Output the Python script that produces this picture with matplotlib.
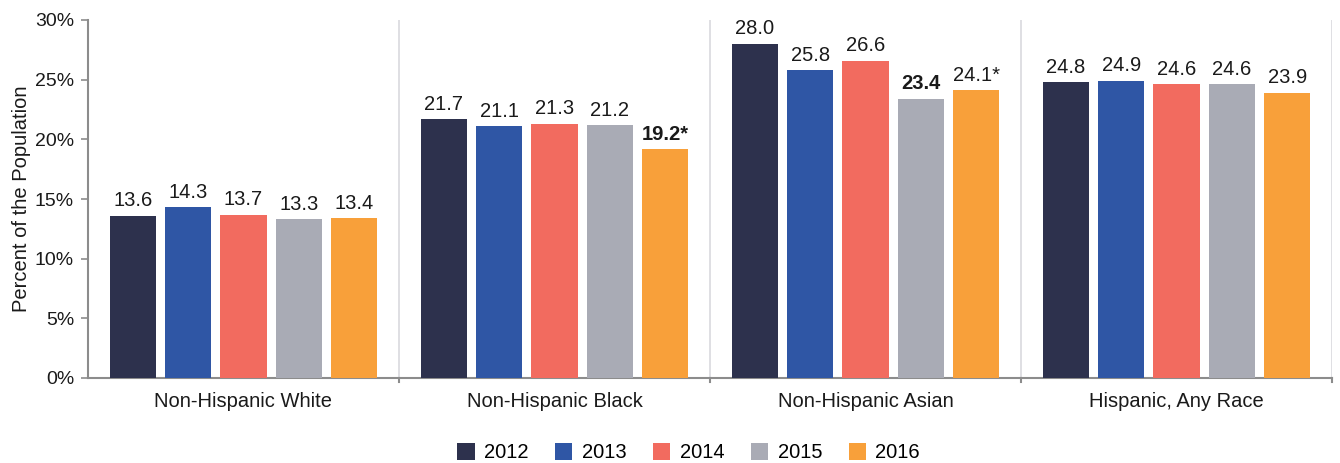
import matplotlib
matplotlib.use("Agg")
import matplotlib.pyplot as plt
import numpy as np

categories = ["Non-Hispanic White", "Non-Hispanic Black", "Non-Hispanic Asian", "Hispanic, Any Race"]
years = ["2012", "2013", "2014", "2015", "2016"]
values = {
    "2012": [13.6, 21.7, 28.0, 24.8],
    "2013": [14.3, 21.1, 25.8, 24.9],
    "2014": [13.7, 21.3, 26.6, 24.6],
    "2015": [13.3, 21.2, 23.4, 24.6],
    "2016": [13.4, 19.2, 24.1, 23.9],
}
labels = {
    "2012": ["13.6", "21.7", "28.0", "24.8"],
    "2013": ["14.3", "21.1", "25.8", "24.9"],
    "2014": ["13.7", "21.3", "26.6", "24.6"],
    "2015": ["13.3", "21.2", "23.4", "24.6"],
    "2016": ["13.4", "19.2*", "24.1*", "23.9"],
}
bold_labels = {("2016", 1), ("2015", 2)}
colors = ["#2d314d", "#2f56a5", "#f26b5f", "#a9abb5", "#f8a03a"]
yticks = [0, 5, 10, 15, 20, 25, 30]

plt.rcParams['font.family'] = ['Liberation Sans', 'DejaVu Sans']

fig = plt.figure(figsize=(13.4, 4.63), dpi=100)
ax = fig.add_axes([88/1340, 1 - 378/463, (1332-88)/1340, (378-20)/463])

x = np.arange(len(categories))
step = 0.178
width = 0.148
for i, yr in enumerate(years):
    pos = x + (i - 2) * step
    ax.bar(pos, values[yr], width=width, color=colors[i], label=yr, zorder=3)
    for j, (p, v) in enumerate(zip(pos, values[yr])):
        bold = (yr, j) in bold_labels
        ax.text(p, v + 0.45, labels[yr][j], ha='center', va='bottom',
                fontsize=14.5, color='#1a1a1a',
                fontweight='bold' if bold else 'normal')

ax.set_xlim(-0.5, 3.5)
ax.set_ylim(0, 30)
ax.set_yticks(yticks)
ax.set_yticklabels([f"{t}%" for t in yticks], fontsize=14, color='#1a1a1a')
ax.set_xticks(x)
ax.set_xticklabels(categories, fontsize=14.5, color='#1a1a1a')
ax.tick_params(axis='x', length=0, pad=10)
ax.tick_params(axis='y', length=5, width=1.2, color='#8c8c8c', pad=5)

for s in ['top', 'right']:
    ax.spines[s].set_visible(False)
for s in ['left', 'bottom']:
    ax.spines[s].set_color('#8c8c8c')
    ax.spines[s].set_linewidth(1.5)

# group separators
for b in [0.5, 1.5, 2.5, 3.5]:
    ax.axvline(b, color='#d9d9de', lw=1.2, zorder=1)
    ax.plot([b, b], [0, -0.35], color='#8c8c8c', lw=1.5, clip_on=False)

ax.set_ylabel("Percent of the Population", fontsize=14.5, color='#1a1a1a', labelpad=3)

leg = fig.legend(loc='lower center', bbox_to_anchor=(0.514, -0.038), ncol=5, frameon=False,
                 fontsize=14.5, handlelength=0.85, handleheight=0.85, handletextpad=0.45,
                 columnspacing=1.35)

fig.savefig("out.png", dpi=100)
